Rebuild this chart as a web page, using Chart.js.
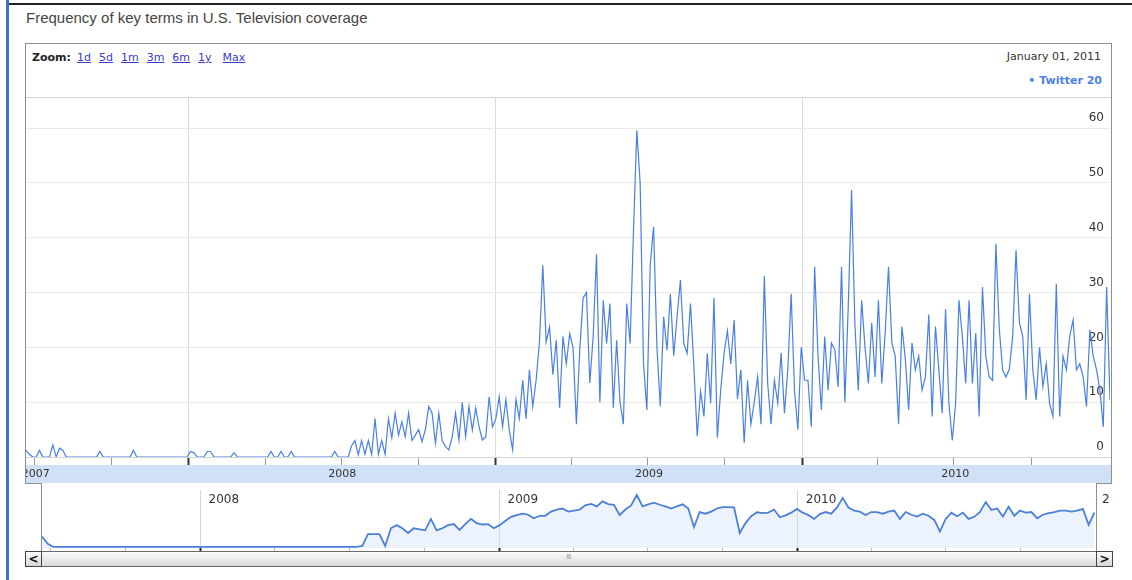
<!DOCTYPE html>
<html>
<head>
<meta charset="utf-8">
<title>Frequency of key terms in U.S. Television coverage</title>
<script src="https://cdn.jsdelivr.net/npm/chart.js@4.4.1/dist/chart.umd.min.js"></script>
<style>
  body { margin: 0; width: 1132px; height: 580px; overflow: hidden; position: relative; background: #fff;
         font-family: "DejaVu Sans", Verdana, sans-serif; color: #222; }
  .abs { position: absolute; }
  canvas { position: absolute; z-index: 1; }
  .line { position: absolute; background: #8e8e8e; z-index: 3; }
  #zoomRow a { color: #3a3acd; text-decoration: underline; margin-left: 8px; }
  .btn { position: absolute; top: 551px; width: 15px; height: 14px; border: 1px solid #444; z-index: 4;
         background: linear-gradient(#fdfdfd, #d6d6d6); font: bold 12px "DejaVu Sans", sans-serif;
         text-align: center; line-height: 14px; color: #111; }
</style>
</head>
<body>

<div class="abs" style="left:6px;top:0;width:3px;height:580px;background:#3d6fcf;"></div>
<div class="abs" style="left:9px;top:3px;width:1123px;height:2px;background:#222;"></div>

<div class="abs" style="left:26px;top:9px;font:15px 'Liberation Sans', Arial, sans-serif;color:#444;">Frequency of key terms in U.S. Television coverage</div>

<!-- frame -->
<div class="abs" style="left:25px;top:43px;width:1085px;height:440px;border:1px solid #8e8e8e;border-bottom:none;z-index:3;pointer-events:none;"></div>
<div class="line" style="left:25px;top:483px;width:17px;height:1px;"></div>
<div class="line" style="left:1096px;top:483px;width:16px;height:1px;"></div>
<div class="line" style="left:41px;top:483px;width:1px;height:68px;"></div>
<div class="line" style="left:1096px;top:483px;width:1px;height:68px;"></div>

<div id="zoomRow" class="abs" style="left:32px;top:51px;font-size:11px;"><b style="margin-right:-2px;">Zoom:</b><a>1d</a><a>5d</a><a>1m</a><a>3m</a><a>6m</a><a>1y</a><a style="margin-left:11px;">Max</a></div>
<div class="abs" style="right:31px;top:50px;font-size:11px;color:#333;">January 01, 2011</div>
<div class="abs" style="right:30px;top:74px;font-size:11px;font-weight:bold;color:#4d80e4;">&bull; Twitter 20</div>
<div class="abs" style="left:26px;top:97px;width:1085px;height:1px;background:#d2d2d2;z-index:2;"></div>

<canvas id="main" width="1111" height="387" style="left:0;top:96px;"></canvas>
<div class="abs" style="left:9px;top:96px;width:16px;height:392px;background:#fff;z-index:2;"></div>

<canvas id="nav" width="1054" height="67" style="left:42px;top:484px;"></canvas>
<div class="abs" style="left:1102px;top:492px;font-size:12px;color:#333;">2</div>

<!-- scrollbar -->
<div class="abs" style="left:25px;top:551px;width:1085px;height:14px;border:1px solid #6a6a6a;background:linear-gradient(#fcfcfc,#d8d8d8);z-index:3;"></div>
<div class="abs" style="left:566px;top:553px;font-size:7px;color:#a8a8a8;z-index:4;letter-spacing:-1px;">IIII</div>
<div class="btn" style="left:25px;">&lt;</div>
<div class="btn" style="left:1096px;">&gt;</div>

<script>
// regular series: one value every stepDays from startDate
var startDate = '2007-06-21';
var stepDays = 4;
var navStepDays = 7;

var quarterDates = ['2007-07-01', '2007-10-01', '2008-01-01', '2008-04-01', '2008-07-01', '2008-10-01',
                    '2009-01-01', '2009-04-01', '2009-07-01', '2009-10-01', '2010-01-01', '2010-04-01',
                    '2010-07-01', '2010-10-01'];
var yearLabels = ['2007', '2008', '2009', '2010'];
var yTicks = [0, 10, 20, 30, 40, 50, 60];

// Twitter mentions, main panel
var twitterValues = [
  1.2, 0.5, 0, 0, 1.2, 0, 0, 0, 2.2, 0,
  1.6, 1.2, 0, 0, 0, 0, 0, 0, 0, 0,
  0, 0, 1, 0, 0, 0, 0, 0, 0, 0,
  0, 0, 1.2, 0, 0, 0, 0, 0, 0, 0,
  0, 0, 0, 0, 0, 0, 0, 0, 0, 1,
  0.8, 0, 0, 0, 1, 1, 0, 0, 0, 0,
  0, 0, 0.8, 0, 0, 0, 0, 0, 0, 0,
  0, 0, 0, 1, 0, 0, 1, 0, 0, 1,
  0, 0, 0, 0, 0, 0, 0, 0, 0, 0,
  0, 0, 1, 0, 0, 0, 0, 2, 3, 0.4,
  3, 0.5, 3, 0.5, 7, 0.5, 3, 0.5, 7, 3.5,
  8, 4, 6.4, 3.7, 8, 3, 4, 5, 2.8, 5,
  9.2, 8, 2.5, 8, 3, 1.9, 1.3, 3.7, 8, 3.1,
  10, 3.7, 9.2, 4.9, 8.9, 5.5, 3.1, 3.7, 11, 5.5,
  7, 11, 5.5, 10.5, 4.9, 1.3, 10.5, 7, 14, 7,
  15.9, 9.2, 14, 21, 35, 21, 23.7, 15, 21.3, 9,
  22, 17, 22.5, 20, 6, 19.5, 29, 30, 13.5, 22,
  37, 10, 28.6, 20.7, 28, 9, 21.3, 10, 6, 28,
  20.7, 41, 59.6, 50, 17, 8.6, 35, 42, 20, 9.2,
  25.6, 19.5, 29.8, 18.5, 25.6, 32.3, 20.7, 18.9, 28, 16.6,
  3.8, 12, 7.4, 18.9, 9.8, 29, 3.5, 12.2, 18.9, 23,
  17, 25, 10.6, 15.9, 2.6, 14, 6, 10, 14.6, 6,
  33, 13.4, 6, 14, 9.8, 19, 8, 16, 29.8, 12,
  5, 20, 14, 14, 5.5, 34.7, 18.4, 8.6, 22, 12.2,
  20.8, 19.6, 12.8, 34.7, 10, 27.4, 48.7, 24, 12.2, 28.6,
  20, 13.4, 24.5, 14.6, 28.6, 13.4, 22.6, 34.7, 20.8, 18.4,
  6, 23.8, 18, 8.6, 20.8, 15.9, 18.4, 12.2, 14.6, 26,
  7.4, 23.8, 15.9, 8, 27, 9.8, 3, 9.8, 28.6, 22,
  13.4, 28.6, 13.4, 22.6, 7.4, 31, 18.4, 14.6, 14, 38.9,
  23.5, 15.9, 14.6, 16, 22, 37.7, 24.5, 22, 10.4, 29.8,
  15.9, 10.4, 20, 12.8, 17, 9.8, 7.4, 31.6, 7.4, 18.4,
  15.9, 22, 25, 15.9, 17, 14.6, 9.2, 23.2, 18.4, 15.9,
  12.2, 5.5, 31, 10.4
];

// weekly values, overview strip
var navValues = [
  5, 1.5, 0, 0, 0, 0, 0, 0, 0, 0,
  0, 0, 0, 0, 0, 0, 0, 0, 0, 0,
  0, 0, 0, 0, 0, 0, 0, 0, 0, 0,
  0, 0, 0, 0, 0, 0, 0, 0, 0, 0,
  0, 0, 0, 0, 0, 0, 0, 0, 0, 0,
  0, 0, 0, 0, 0, 0, 0.5, 6.2, 6.2, 6.2,
  0.5, 9, 10.5, 9, 6.7, 9, 8.5, 8, 13.5, 8,
  9, 10.5, 11, 8.2, 11, 13.5, 11.5, 10.8, 11, 9,
  10.5, 12.5, 14.5, 15.3, 16, 15.5, 13.8, 15, 15, 17,
  18, 18.5, 17, 17.5, 18, 20, 20.7, 19.5, 21.9, 20.6,
  20.3, 15.4, 18, 20, 25, 19.5, 20.5, 21.3, 20.3, 19.5,
  18.5, 19.5, 20.5, 18.5, 9.6, 16.8, 16, 17, 18.5, 19.2,
  19.2, 19, 6.7, 11.5, 14.8, 16.7, 16.3, 16.5, 18, 14.3,
  15.2, 16.5, 18.3, 16.5, 15.3, 13.5, 15.8, 16.8, 16, 19,
  23.6, 19, 17.5, 17, 15.4, 16.8, 16.8, 16, 17, 17.5,
  13.5, 16.8, 15.5, 14.6, 16, 15, 13, 7.5, 13.5, 16.5,
  14.8, 16.5, 13.5, 14.5, 16.8, 21.6, 17.8, 18.5, 14.6, 19.3,
  15, 17.5, 16.5, 16.8, 13.8, 15.5, 16.3, 16.8, 17.5, 17.5,
  17, 17.5, 18.3, 10.6, 16.5
];

var DAY = 86400000;
function dayOf(s) { return (Date.parse(s) - Date.parse(startDate)) / DAY; }

var quarterDays = quarterDates.map(dayOf);
var yearStarts = quarterDates.filter(function (d) { return d.slice(5) === '01-01'; });
var yearDays = yearStarts.map(dayOf);
var navYearLabels = yearStarts.map(function (d) { return d.slice(0, 4); });
var yearMid = yearLabels.map(function (y) {
  return (dayOf(y + '-01-01') + dayOf((+y + 1) + '-01-01')) / 2;
});

var mainMax = (twitterValues.length - 1) * stepDays;
var navMax = dayOf('2011-01-01');

function isYear(c) { return c.tick && yearDays.indexOf(c.tick.value) >= 0; }
function asTicks(arr) { return arr.map(function (v) { return { value: v }; }); }

Chart.defaults.font.family = '"DejaVu Sans", Verdana, sans-serif';

var bandPlugin = {
  id: 'band',
  beforeDraw: function (chart) {
    var s = chart.scales.band;
    if (!s) return;
    var ctx = chart.ctx;
    ctx.save();
    ctx.fillStyle = '#cfe0f7';
    ctx.fillRect(s.left, s.top, s.right - s.left + 1, s.bottom - s.top);
    ctx.restore();
  }
};

new Chart(document.getElementById('main'), {
  type: 'line',
  data: {
    datasets: [{
      label: 'Twitter',
      data: twitterValues.map(function (v, i) { return { x: i * stepDays, y: v }; }),
      borderColor: '#4a7fe6',
      borderWidth: 1.2,
      pointRadius: 0,
      tension: 0,
      fill: false
    }]
  },
  options: {
    animation: false,
    responsive: false,
    events: [],
    layout: { padding: { left: 26, right: 1, top: 2, bottom: 0 } },
    plugins: { legend: { display: false }, tooltip: { enabled: false } },
    scales: {
      x: {
        type: 'linear', min: 0, max: mainMax,
        afterBuildTicks: function (s) { s.ticks = asTicks(quarterDays); },
        ticks: { display: false },
        grid: {
          color: function (c) { return isYear(c) ? '#dcdcdc' : 'rgba(0,0,0,0)'; },
          tickColor: function (c) { return isYear(c) ? '#333' : '#999'; },
          tickWidth: function (c) { return isYear(c) ? 2 : 1; },
          tickLength: 8
        },
        border: { display: true, color: '#d6d6d6' }
      },
      band: {
        type: 'linear', position: 'bottom', weight: 1, min: 0, max: mainMax,
        afterBuildTicks: function (s) { s.ticks = asTicks(yearMid); },
        ticks: {
          autoSkip: false, maxRotation: 0, padding: 2.4, color: '#333',
          font: { size: 11 },
          callback: function (v, i) { return yearLabels[i]; }
        },
        grid: { display: false, drawTicks: false },
        border: { display: false }
      },
      y: {
        position: 'right', min: 0, max: 65.5,
        afterBuildTicks: function (s) { s.ticks = asTicks(yTicks); },
        afterFit: function (s) { s.width = 0; },
        ticks: { mirror: true, padding: -6, labelOffset: -10, color: '#333', font: { size: 12 } },
        grid: { color: '#e9e9e9', drawTicks: false },
        border: { display: false }
      }
    }
  },
  plugins: [bandPlugin]
});

new Chart(document.getElementById('nav'), {
  type: 'line',
  data: {
    datasets: [{
      data: navValues.map(function (v, i) { return { x: i * navStepDays, y: v }; }),
      borderColor: '#4c80d6',
      borderWidth: 1.8,
      pointRadius: 0,
      tension: 0,
      fill: 'start',
      backgroundColor: 'rgba(208,226,250,0.4)'
    }]
  },
  options: {
    animation: false,
    responsive: false,
    events: [],
    layout: { padding: 0 },
    plugins: { legend: { display: false }, tooltip: { enabled: false } },
    scales: {
      x: {
        type: 'linear', min: 0, max: navMax,
        afterBuildTicks: function (s) { s.ticks = asTicks(quarterDays); },
        ticks: { display: false },
        grid: {
          color: function (c) { return isYear(c) ? '#d8d8d8' : 'rgba(0,0,0,0)'; },
          tickColor: function (c) { return isYear(c) ? '#222' : '#bbb'; },
          tickWidth: function (c) { return isYear(c) ? 2 : 1; },
          tickLength: 3
        },
        border: { display: false }
      },
      top: {
        type: 'linear', position: 'top', min: 0, max: navMax,
        afterBuildTicks: function (s) { s.ticks = asTicks(yearDays); },
        ticks: {
          mirror: true, align: 'start', labelOffset: 8, padding: 3, autoSkip: false, maxRotation: 0,
          color: '#333', font: { size: 12 },
          callback: function (v, i) { return navYearLabels[i]; }
        },
        grid: { display: false, drawTicks: false },
        border: { display: false }
      },
      y: { display: false, min: -0.5, max: 27.4 }
    }
  }
});
</script>
</body>
</html>
